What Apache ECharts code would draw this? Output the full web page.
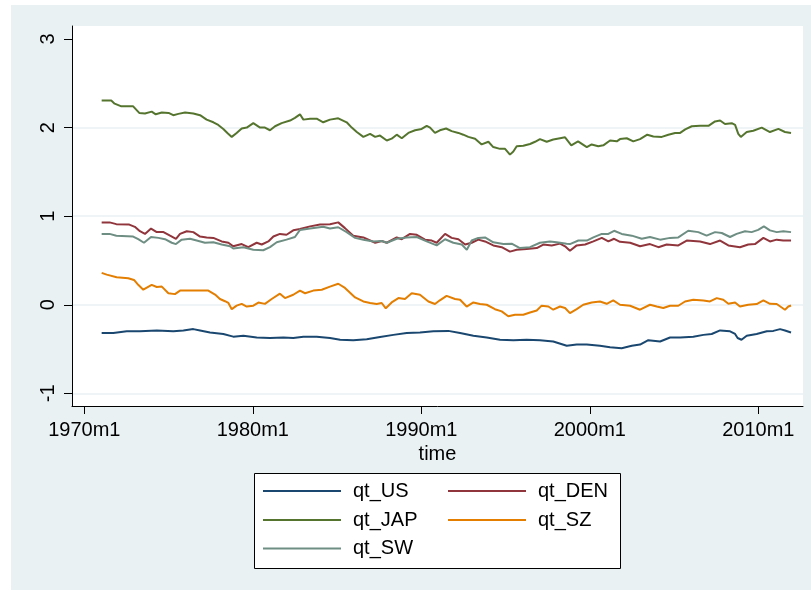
<!DOCTYPE html>
<html>
<head>
<meta charset="utf-8">
<script src="https://cdn.jsdelivr.net/npm/echarts@6/dist/echarts.min.js"></script>
<style>
  html, body { margin: 0; padding: 0; background: #ffffff; }
  #chart { width: 811px; height: 592px; }
</style>
</head>
<body>
<div id="chart"></div>
<script>
// Series are [year, value] pairs (year as decimal, monthly data 1971m1–2011m12)
const qtUS = [
  [1971.03,-0.32],[1971.72,-0.32],[1972.52,-0.30],[1973.3,-0.30],[1974.3,-0.29],[1975.28,-0.30],
  [1975.88,-0.29],[1976.47,-0.275],[1976.87,-0.29],[1977.46,-0.313],[1978.25,-0.33],[1978.84,-0.36],
  [1979.44,-0.35],[1980.23,-0.37],[1981.02,-0.375],[1981.81,-0.37],[1982.4,-0.375],[1983.0,-0.36],
  [1983.79,-0.36],[1984.58,-0.375],[1985.18,-0.395],[1985.96,-0.40],[1986.76,-0.39],[1987.55,-0.365],
  [1988.34,-0.34],[1989.13,-0.32],[1989.92,-0.313],[1990.71,-0.30],[1991.6,-0.295],[1992.3,-0.32],
  [1993.09,-0.35],[1993.88,-0.37],[1994.67,-0.395],[1995.46,-0.40],[1996.25,-0.395],[1997.04,-0.40],
  [1997.83,-0.415],[1998.63,-0.463],[1999.22,-0.45],[1999.82,-0.45],[2000.6,-0.463],[2001.2,-0.48],
  [2001.89,-0.49],[2002.49,-0.463],[2002.98,-0.45],[2003.47,-0.40],[2004.17,-0.415],[2004.76,-0.37],
  [2005.36,-0.37],[2006.14,-0.36],[2006.74,-0.34],[2007.23,-0.33],[2007.73,-0.29],[2008.32,-0.30],
  [2008.62,-0.33],[2008.77,-0.375],[2009.0,-0.395],[2009.31,-0.35],[2009.9,-0.33],[2010.5,-0.30],
  [2010.89,-0.295],[2011.29,-0.275],[2011.58,-0.29],[2011.94,-0.313]
];

const qtDEN = [
  [1971.03,0.93],[1971.5,0.93],[1971.9,0.91],[1972.67,0.905],[1973.0,0.88],[1973.3,0.83],[1973.6,0.80],
  [1973.96,0.86],[1974.3,0.82],[1974.7,0.82],[1975.09,0.78],[1975.44,0.745],[1975.68,0.80],[1976.08,0.83],
  [1976.47,0.82],[1976.87,0.77],[1977.26,0.76],[1977.66,0.755],[1978.15,0.715],[1978.55,0.70],[1978.84,0.66],
  [1979.34,0.685],[1979.73,0.65],[1980.23,0.70],[1980.53,0.68],[1980.92,0.715],[1981.22,0.77],[1981.61,0.80],
  [1982.0,0.79],[1982.4,0.84],[1982.8,0.855],[1983.4,0.885],[1983.99,0.905],[1984.58,0.91],[1985.07,0.93],
  [1985.47,0.865],[1985.96,0.78],[1986.56,0.76],[1987.26,0.70],[1987.65,0.72],[1987.95,0.70],[1988.54,0.76],
  [1988.84,0.74],[1989.33,0.80],[1989.73,0.79],[1990.22,0.735],[1990.62,0.725],[1990.91,0.70],[1991.41,0.80],
  [1991.8,0.755],[1992.2,0.74],[1992.6,0.68],[1992.99,0.70],[1993.38,0.735],[1993.78,0.715],[1994.27,0.67],
  [1994.77,0.65],[1995.26,0.60],[1995.66,0.62],[1996.25,0.63],[1996.85,0.64],[1997.24,0.68],[1997.74,0.67],
  [1998.23,0.69],[1998.53,0.66],[1998.82,0.61],[1999.22,0.67],[1999.72,0.68],[2000.21,0.715],[2000.71,0.755],
  [2001.1,0.715],[2001.44,0.745],[2001.79,0.71],[2002.39,0.70],[2002.98,0.66],[2003.57,0.685],[2004.07,0.65],
  [2004.56,0.68],[2005.25,0.67],[2005.75,0.725],[2006.54,0.715],[2007.13,0.685],[2007.73,0.725],[2008.22,0.67],
  [2008.91,0.65],[2009.4,0.68],[2009.8,0.685],[2010.3,0.755],[2010.69,0.715],[2011.09,0.735],[2011.48,0.725],
  [2011.94,0.725]
];

const qtJAP = [
  [1971.03,2.305],[1971.6,2.305],[1971.8,2.27],[1972.2,2.24],[1972.9,2.24],[1973.0,2.22],[1973.26,2.166],
  [1973.6,2.16],[1974.0,2.18],[1974.24,2.15],[1974.6,2.17],[1975.0,2.166],[1975.28,2.14],[1975.58,2.155],
  [1975.98,2.17],[1976.47,2.16],[1976.87,2.14],[1977.26,2.09],[1977.66,2.06],[1977.95,2.03],[1978.25,1.985],
  [1978.49,1.94],[1978.75,1.895],[1979.04,1.94],[1979.34,1.99],[1979.64,2.0],[1980.03,2.05],[1980.43,2.0],
  [1980.72,2.0],[1981.02,1.97],[1981.32,2.015],[1981.71,2.05],[1982.21,2.08],[1982.5,2.11],[1982.8,2.15],
  [1983.0,2.09],[1983.4,2.1],[1983.79,2.1],[1984.18,2.06],[1984.58,2.09],[1985.07,2.105],[1985.57,2.06],
  [1985.87,2.0],[1986.17,1.95],[1986.56,1.895],[1986.96,1.93],[1987.26,1.895],[1987.55,1.91],[1987.95,1.855],
  [1988.24,1.875],[1988.54,1.92],[1988.84,1.88],[1989.23,1.94],[1989.63,1.97],[1990.02,1.985],[1990.32,2.02],
  [1990.52,2.0],[1990.81,1.94],[1991.1,1.97],[1991.47,1.99],[1991.8,1.96],[1992.2,1.94],[1992.49,1.92],
  [1992.79,1.895],[1993.19,1.875],[1993.58,1.81],[1993.98,1.84],[1994.27,1.78],[1994.67,1.76],[1994.97,1.76],
  [1995.26,1.695],[1995.46,1.73],[1995.66,1.79],[1996.05,1.795],[1996.45,1.815],[1996.75,1.84],[1997.04,1.87],
  [1997.44,1.84],[1997.83,1.865],[1998.23,1.88],[1998.53,1.89],[1998.9,1.80],[1999.3,1.845],[1999.82,1.78],
  [2000.11,1.81],[2000.5,1.79],[2000.8,1.80],[2001.2,1.855],[2001.6,1.845],[2001.79,1.87],[2002.19,1.88],
  [2002.58,1.845],[2002.98,1.87],[2003.41,1.92],[2003.77,1.90],[2004.27,1.895],[2004.66,1.92],[2005.06,1.94],
  [2005.36,1.94],[2005.66,1.98],[2006.05,2.015],[2006.54,2.02],[2007.04,2.02],[2007.43,2.07],[2007.73,2.08],
  [2008.02,2.04],[2008.42,2.05],[2008.62,2.03],[2008.81,1.93],[2008.96,1.895],[2009.31,1.95],[2009.7,1.965],
  [2010.2,2.0],[2010.69,1.95],[2011.19,1.985],[2011.58,1.95],[2011.94,1.94]
];

const qtSZ = [
  [1971.03,0.36],[1971.33,0.34],[1971.92,0.31],[1972.61,0.30],[1972.95,0.28],[1973.2,0.225],[1973.5,0.17],
  [1974.0,0.225],[1974.3,0.20],[1974.6,0.205],[1974.99,0.13],[1975.38,0.12],[1975.68,0.16],[1976.27,0.16],
  [1976.87,0.16],[1977.36,0.16],[1977.76,0.115],[1978.05,0.065],[1978.35,0.04],[1978.55,0.02],[1978.75,-0.05],
  [1979.04,-0.01],[1979.34,0.01],[1979.64,-0.02],[1980.03,-0.01],[1980.33,0.025],[1980.72,0.01],[1981.12,0.065],
  [1981.61,0.125],[1981.91,0.075],[1982.4,0.113],[1982.8,0.16],[1983.1,0.13],[1983.59,0.16],[1984.09,0.17],
  [1984.58,0.205],[1985.07,0.237],[1985.47,0.19],[1986.07,0.083],[1986.56,0.037],[1986.96,0.02],[1987.35,0.008],
  [1987.65,0.02],[1987.89,-0.04],[1988.24,0.026],[1988.64,0.075],[1989.03,0.065],[1989.43,0.13],[1989.92,0.113],
  [1990.42,0.037],[1990.81,0.008],[1991.1,0.05],[1991.5,0.10],[1992.0,0.065],[1992.3,0.056],[1992.69,-0.02],
  [1993.09,0.026],[1993.48,0.008],[1993.88,0.0],[1994.37,-0.05],[1994.77,-0.075],[1995.16,-0.13],[1995.56,-0.113],
  [1996.05,-0.113],[1996.45,-0.087],[1996.85,-0.064],[1997.14,-0.01],[1997.54,-0.02],[1997.83,-0.056],
  [1998.23,-0.02],[1998.53,-0.037],[1998.82,-0.094],[1999.22,-0.049],[1999.61,0.0],[2000.11,0.026],[2000.6,0.037],
  [2001.0,0.011],[2001.39,0.049],[2001.79,0.0],[2002.39,-0.011],[2002.98,-0.056],[2003.57,0.0],[2003.97,-0.02],
  [2004.36,-0.037],[2004.76,-0.011],[2005.25,-0.011],[2005.65,0.037],[2006.14,0.056],[2006.74,0.049],
  [2007.13,0.037],[2007.53,0.075],[2007.92,0.056],[2008.22,0.011],[2008.62,0.026],[2008.91,-0.02],[2009.4,0.0],
  [2009.9,0.008],[2010.3,0.049],[2010.69,0.011],[2011.09,0.008],[2011.58,-0.056],[2011.78,-0.02],[2011.94,-0.008]
];

const qtSW = [
  [1971.03,0.80],[1971.5,0.80],[1971.9,0.78],[1972.9,0.77],[1973.2,0.74],[1973.54,0.70],[1973.96,0.765],
  [1974.4,0.755],[1974.79,0.74],[1975.19,0.70],[1975.44,0.685],[1975.78,0.735],[1976.27,0.745],[1976.67,0.725],
  [1977.16,0.70],[1977.66,0.705],[1978.15,0.68],[1978.65,0.66],[1978.84,0.635],[1979.44,0.65],[1980.03,0.62],
  [1980.62,0.615],[1981.02,0.65],[1981.42,0.705],[1982.0,0.735],[1982.5,0.765],[1982.8,0.845],[1983.4,0.86],
  [1984.18,0.88],[1984.58,0.86],[1985.07,0.875],[1985.57,0.82],[1986.07,0.755],[1986.56,0.735],[1987.16,0.715],
  [1987.65,0.72],[1987.95,0.70],[1988.54,0.745],[1989.13,0.76],[1989.73,0.765],[1990.32,0.715],[1990.91,0.67],
  [1991.41,0.74],[1991.9,0.70],[1992.4,0.68],[1992.7,0.62],[1992.99,0.725],[1993.38,0.755],[1993.78,0.76],
  [1994.27,0.705],[1994.87,0.685],[1995.36,0.69],[1995.85,0.64],[1996.45,0.65],[1997.04,0.70],[1997.63,0.715],
  [1998.03,0.705],[1998.62,0.69],[1998.82,0.685],[1999.32,0.725],[1999.82,0.725],[2000.21,0.76],[2000.71,0.80],
  [2001.1,0.80],[2001.44,0.835],[2001.89,0.80],[2002.49,0.78],[2003.08,0.745],[2003.57,0.765],[2004.17,0.735],
  [2004.76,0.755],[2005.25,0.76],[2005.84,0.835],[2006.44,0.82],[2006.93,0.78],[2007.43,0.82],[2007.83,0.81],
  [2008.32,0.765],[2008.71,0.80],[2009.21,0.83],[2009.6,0.82],[2009.99,0.845],[2010.33,0.885],[2010.69,0.84],
  [2011.09,0.82],[2011.48,0.83],[2011.94,0.82]
];

const seriesNames = ['qt_US', 'qt_DEN', 'qt_JAP', 'qt_SZ', 'qt_SW'];
const seriesData = [qtUS, qtDEN, qtJAP, qtSZ, qtSW];
const seriesColors = ['#1a476f', '#90353b', '#55752f', '#e37e00', '#6e8e84'];

const xTickYears = [1970, 1980, 1990, 2000, 2010];
const yTicks = [-1, 0, 1, 2, 3];

const FONT = '"Liberation Sans", Arial, Helvetica, sans-serif';
const BG = '#eaf1f3';

const chart = echarts.init(document.getElementById('chart'), null, { renderer: 'canvas' });

// legend placement: two columns, three rows
const legendCols = [263, 448];
const legendRows = [492, 521, 549.5];
const legends = seriesNames.map((name, i) => ({
  data: [name],
  left: legendCols[i % 2],
  top: legendRows[Math.floor(i / 2)] - 11,
  padding: 0,
  icon: 'rect',
  itemWidth: 78,
  itemHeight: 2,
  selectedMode: false,
  z: 5,
  textStyle: { fontFamily: FONT, fontSize: 20, color: '#000', padding: [0, 0, 0, 7] }
}));

chart.setOption({
  animation: false,
  textStyle: { fontFamily: FONT },
  graphic: [
    { type: 'rect', z: -10, shape: { x: 11, y: 5, width: 800, height: 585 }, style: { fill: BG } },
    { type: 'rect', z: 2, shape: { x: 254.5, y: 473.5, width: 366, height: 95 },
      style: { fill: '#ffffff', stroke: '#000000', lineWidth: 1 } }
  ],
  grid: {
    left: 72, top: 26, width: 731, height: 380,
    show: true, backgroundColor: '#ffffff', borderWidth: 0
  },
  legend: legends,
  xAxis: {
    type: 'value',
    min: 1969.27, max: 2012.65,
    name: 'time', nameLocation: 'middle', nameGap: 36,
    nameTextStyle: { fontFamily: FONT, fontSize: 20, color: '#000' },
    axisLine: { show: true, onZero: false, lineStyle: { color: '#000', width: 1 } },
    axisTick: { show: true, length: 8, customValues: xTickYears, lineStyle: { color: '#000', width: 1 } },
    axisLabel: {
      customValues: xTickYears, margin: 14, fontSize: 20, color: '#000', fontFamily: FONT,
      formatter: v => v + 'm1'
    },
    splitLine: { show: false }
  },
  yAxis: {
    type: 'value',
    min: -1.143, max: 3.147,
    axisLine: { show: true, onZero: false, lineStyle: { color: '#000', width: 1 } },
    axisTick: { show: true, length: 8, customValues: yTicks, lineStyle: { color: '#000', width: 1 } },
    axisLabel: {
      customValues: yTicks, rotate: 90, margin: 14, fontSize: 20, color: '#000', fontFamily: FONT
    },
    splitLine: {
      show: true,
      lineStyle: { color: [BG, BG, BG, BG, 'rgba(0,0,0,0)'], width: 1.5 }
    }
  },
  series: seriesNames.map((name, i) => ({
    name: name,
    type: 'line',
    data: seriesData[i],
    showSymbol: false,
    symbol: 'none',
    color: seriesColors[i],
    lineStyle: { color: seriesColors[i], width: 2 },
    itemStyle: { color: seriesColors[i] },
    z: 3
  }))
});
</script>
</body>
</html>
